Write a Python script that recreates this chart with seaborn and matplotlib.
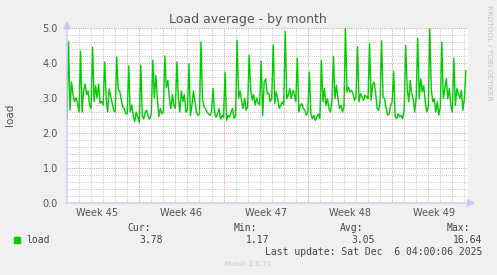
import numpy as np
import pandas as pd
import matplotlib
matplotlib.use("Agg")
import matplotlib.pyplot as plt
import matplotlib.transforms as mtransforms
import seaborn as sns

# ---------------- data ----------------
title = "Load average - by month"
ylabel = "load"
series_name = "load"
week_labels = ["Week 45", "Week 46", "Week 47", "Week 48", "Week 49"]
stat_names = ["Cur:", "Min:", "Avg:", "Max:"]
stat_values = ["3.78", "1.17", "3.05", "16.64"]
last_update = "Last update: Sat Dec  6 04:00:06 2025"
samples_per_day = 8  # 3-hour samples

load = [
    2.41, 4.60, 2.66, 3.46, 3.10, 2.90, 3.00, 2.85,
    2.60, 4.34, 2.60, 3.20, 3.40, 3.10, 3.20, 2.80,
    2.70, 4.45, 2.90, 3.35, 3.00, 3.40, 2.85, 2.90,
    2.80, 4.03, 3.00, 2.60, 3.26, 3.05, 2.85, 2.65,
    2.60, 4.17, 3.25, 3.20, 2.95, 2.75, 2.70, 2.55,
    2.55, 3.92, 2.60, 2.80, 2.50, 2.33, 2.60, 2.45,
    2.30, 3.94, 2.50, 2.40, 2.60, 2.65, 2.45, 2.40,
    2.55, 4.08, 3.00, 3.65, 3.00, 2.47, 2.70, 2.55,
    2.60, 4.20, 3.30, 3.50, 3.00, 2.70, 3.10, 2.80,
    2.70, 4.03, 3.00, 2.60, 3.20, 2.90, 3.10, 2.60,
    2.65, 3.98, 2.50, 2.80, 3.20, 2.90, 2.60, 2.50,
    2.55, 4.60, 2.98, 2.75, 2.70, 2.60, 2.55, 2.50,
    2.60, 3.27, 2.60, 2.45, 2.55, 2.70, 2.40, 2.50,
    2.45, 3.74, 2.36, 2.50, 2.45, 2.60, 2.70, 2.42,
    2.50, 4.65, 3.00, 3.20, 2.90, 2.70, 3.00, 2.65,
    2.75, 4.22, 3.27, 2.94, 3.10, 2.80, 3.00, 2.85,
    2.80, 4.05, 2.50, 3.46, 3.55, 3.12, 3.14, 2.89,
    2.98, 4.52, 2.84, 3.17, 2.98, 2.70, 2.79, 2.89,
    2.80, 4.90, 2.98, 3.08, 3.27, 2.98, 3.22, 3.12,
    2.89, 4.14, 2.60, 2.79, 2.84, 2.70, 2.65, 2.51,
    2.60, 3.74, 2.55, 2.41, 2.50, 2.36, 2.46, 2.55,
    2.41, 4.08, 2.89, 3.27, 2.79, 2.98, 2.70, 2.60,
    2.89, 4.19, 2.98, 3.36, 2.98, 2.70, 2.79, 2.60,
    2.75, 4.98, 3.17, 3.31, 3.17, 3.22, 3.12, 2.93,
    3.05, 4.46, 2.89, 3.12, 3.03, 2.93, 3.08, 3.03,
    2.98, 4.55, 2.93, 3.36, 3.46, 3.17, 2.70, 2.65,
    2.89, 4.63, 3.03, 2.98, 2.70, 2.51, 2.55, 2.79,
    2.89, 3.76, 2.46, 2.41, 2.55, 2.46, 2.50, 2.41,
    2.65, 4.50, 3.27, 2.89, 3.50, 3.12, 2.98, 2.60,
    3.03, 4.71, 2.98, 3.55, 3.17, 3.36, 2.89, 2.60,
    2.75, 4.98, 3.27, 2.89, 2.98, 2.60, 2.89, 2.51,
    2.75, 4.60, 2.98, 3.27, 3.55, 2.98, 3.27, 2.79,
    2.60, 4.14, 2.79, 3.27, 3.12, 2.98, 3.22, 2.65,
    2.98, 3.78,
]

days = np.arange(len(load)) / samples_per_day
df = pd.DataFrame({"day": days, "load": load})

# ---------------- figure ----------------
W, H = 497, 275
sns.set_style("white")
plt.rcParams["font.family"] = ["DejaVu Sans"]

fig = plt.figure(figsize=(W / 100, H / 100), dpi=100, facecolor="#f0f0f0")

def fx(px):
    return px / W

def fy(py):
    return 1 - py / H

ax_l, ax_r, ax_t, ax_b = 67, 468, 28, 203
ax = fig.add_axes([fx(ax_l), fy(ax_b), (ax_r - ax_l) / W, (ax_b - ax_t) / H])
ax.set_facecolor("white")

sns.lineplot(data=df, x="day", y="load", ax=ax, color="#00cc00",
             linewidth=1.0, zorder=5, legend=False)

ax.set_xlim(0, 33.3)
ax.set_ylim(0, 5.0)

# grid
week_bounds = [6, 13, 20, 27]
ax.set_xticks(week_bounds)
ax.set_xticks(np.arange(1, 34, 1), minor=True)
ax.set_yticks(np.arange(0, 5.01, 1.0))
ax.set_yticks(np.arange(0, 5.01, 0.2), minor=True)

minor_kw = dict(color="#c6c6c6", linewidth=0.72, linestyle=(0, (1, 1.2)))
major_kw = dict(color="#e09696", linewidth=0.72, linestyle=(0, (1, 1.2)))
ax.grid(True, which="minor", **minor_kw, zorder=1)
ax.grid(True, which="major", **major_kw, zorder=2)
ax.set_axisbelow(True)

ax.set_xticklabels([])
ax.tick_params(axis="x", which="major", length=3, width=0.72, color="#e09696", direction="out")
ax.tick_params(axis="x", which="minor", length=0)
ax.tick_params(axis="y", which="both", length=0, pad=6.5, labelsize=7, labelcolor="#555555")
ax.set_yticklabels([f"{v:.1f}" for v in np.arange(0, 5.01, 1.0)])

for s in ["top", "right", "left", "bottom"]:
    ax.spines[s].set_visible(False)

ax.set_xlabel("")
ax.set_ylabel("")

# axis lines with arrows
axis_col = "#c8c8f4"
ax.annotate("", xy=(0, 1.04), xytext=(0, 0), xycoords="axes fraction",
            arrowprops=dict(arrowstyle="-|>,head_length=0.45,head_width=0.22",
                            color=axis_col, lw=1.0, shrinkA=0, shrinkB=0),
            annotation_clip=False, zorder=6)
ax.annotate("", xy=(1.018, 0), xytext=(0, 0), xycoords="axes fraction",
            arrowprops=dict(arrowstyle="-|>,head_length=0.45,head_width=0.22",
                            color=axis_col, lw=1.0, shrinkA=0, shrinkB=0),
            annotation_clip=False, zorder=6)

# week labels
trans = mtransforms.blended_transform_factory(ax.transData, fig.transFigure)
week_centers = [2.5, 9.5, 16.5, 23.5, 30.5]
for xc, lab in zip(week_centers, week_labels):
    ax.text(xc, fy(213), lab, transform=trans, ha="center", va="center",
            fontsize=7, color="#555555")

# title and axis label
fig.text(fx(248), fy(19), title, ha="center", va="center", fontsize=9, color="#555555")
fig.text(fx(10.5), fy(115), ylabel, ha="center", va="center", rotation=90,
         fontsize=7.5, color="#555555")
fig.text(fx(489), fy(53), "RRDTOOL / TOBI OETIKER", ha="center", va="center",
         rotation=270, fontsize=5.4, color="#c4c4c4")

# legend block
mono = "DejaVu Sans Mono"
fig.patches.append(plt.Rectangle((fx(14), fy(243)), 6 / W, 6 / H,
                                 transform=fig.transFigure, color="#00cc00"))
fig.text(fx(26), fy(240), series_name, ha="left", va="center", family=mono,
         fontsize=7, color="#444444")
value_rights = [163, 269, 375, 482]
for name, val, xr in zip(stat_names, stat_values, value_rights):
    fig.text(fx(xr - 12), fy(228), name, ha="right", va="center", family=mono,
             fontsize=7, color="#444444")
    fig.text(fx(xr), fy(240), val, ha="right", va="center", family=mono,
             fontsize=7, color="#444444")
fig.text(fx(482), fy(252), last_update, ha="right", va="center", family=mono,
         fontsize=7, color="#444444")
fig.text(fx(248), fy(264), "Munin 2.0.73", ha="center", va="center",
         fontsize=5, color="#c8c8c8")

fig.savefig("out.png", dpi=100, facecolor=fig.get_facecolor())
